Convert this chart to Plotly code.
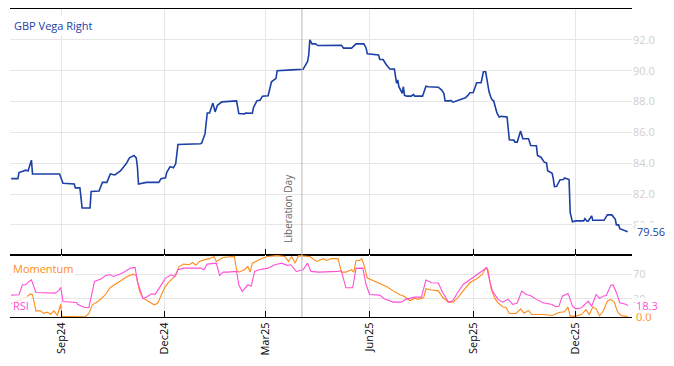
import plotly.graph_objects as go
from plotly.subplots import make_subplots

# ---------------- data ----------------
vega_dates = ["2024-07-18","2024-07-24","2024-07-25","2024-07-31","2024-08-02","2024-08-05","2024-08-06","2024-08-30",
 "2024-09-02","2024-09-12","2024-09-13","2024-09-17","2024-09-19","2024-09-26","2024-09-27","2024-10-04","2024-10-07",
 "2024-10-11","2024-10-14","2024-10-18","2024-10-23","2024-10-28","2024-10-31","2024-11-04","2024-11-06","2024-11-07",
 "2024-11-08","2024-11-15","2024-11-26","2024-11-28","2024-12-02","2024-12-03","2024-12-06","2024-12-09","2024-12-11",
 "2024-12-13","2025-01-02","2025-01-03","2025-01-06","2025-01-08","2025-01-10","2025-01-13","2025-01-15","2025-01-17",
 "2025-01-21","2025-02-03","2025-02-05","2025-02-10","2025-02-11","2025-02-17","2025-02-18","2025-02-21","2025-02-24",
 "2025-02-26","2025-03-03","2025-03-04","2025-03-06","2025-03-10","2025-03-11","2025-03-24","2025-04-03","2025-04-07",
 "2025-04-08","2025-04-09","2025-04-11","2025-04-14","2025-04-16","2025-05-07","2025-05-09","2025-05-16","2025-05-20",
 "2025-05-27","2025-05-29","2025-05-30","2025-06-09","2025-06-10","2025-06-13","2025-06-16","2025-06-19","2025-06-23",
 "2025-06-24","2025-06-25","2025-06-26","2025-06-27","2025-06-30","2025-07-01","2025-07-02","2025-07-04","2025-07-08",
 "2025-07-10","2025-07-11","2025-07-18","2025-07-21","2025-07-23","2025-08-01","2025-08-04","2025-08-06","2025-08-07",
 "2025-08-11","2025-08-12","2025-08-14","2025-08-18","2025-08-22","2025-08-25","2025-08-27","2025-08-29","2025-09-01",
 "2025-09-03","2025-09-04","2025-09-08","2025-09-09","2025-09-10","2025-09-12","2025-09-15","2025-09-17","2025-09-18",
 "2025-09-19","2025-09-22","2025-09-24","2025-09-26","2025-10-01","2025-10-03","2025-10-07","2025-10-08","2025-10-10",
 "2025-10-13","2025-10-15","2025-10-20","2025-10-22","2025-10-27","2025-10-28","2025-10-31","2025-11-03","2025-11-05",
 "2025-11-06","2025-11-10","2025-11-11","2025-11-12","2025-11-14","2025-11-17","2025-11-20","2025-11-21","2025-11-25",
 "2025-11-26","2025-11-28","2025-12-01","2025-12-08","2025-12-09","2025-12-11","2025-12-12","2025-12-15","2025-12-16",
 "2025-12-26","2025-12-29","2026-01-02","2026-01-05","2026-01-06","2026-01-08","2026-01-09","2026-01-13","2026-01-16"]
vega_values = [83.0,83.0,83.4,83.55,83.5,84.2,83.3,83.3,
 82.7,82.65,82.4,82.4,81.1,81.1,82.17,82.2,82.76,
 82.76,83.3,83.24,83.5,83.96,84.35,84.5,84.35,83.8,
 82.65,82.76,82.76,83.0,83.05,83.4,83.78,83.7,83.96,
 85.22,85.26,85.3,85.9,87.26,87.26,87.9,87.33,87.76,
 87.98,88.04,87.22,87.2,87.25,87.24,87.6,88.04,88.1,
 88.35,88.38,88.74,89.28,89.5,90.0,90.05,90.09,90.6,
 91.0,92.0,91.74,91.74,91.63,91.65,91.46,91.46,91.74,
 91.74,91.46,91.09,91.02,90.74,90.72,90.37,90.11,90.1,
 89.5,89.18,89.4,88.96,88.53,88.96,88.4,88.35,88.35,
 88.46,88.35,88.35,89.0,88.96,88.93,88.74,88.52,88.04,
 88.04,88.07,87.96,88.07,88.2,88.24,88.38,88.57,88.59,
 89.07,89.22,89.22,89.5,89.93,89.93,88.63,88.2,88.09,
 88.07,87.26,87.0,87.04,87.0,85.52,85.5,85.37,85.37,
 86.09,85.59,85.59,85.15,85.13,84.5,84.39,84.07,84.02,
 83.52,83.35,82.98,82.48,82.5,82.93,82.94,83.04,82.94,
 80.8,80.2,80.26,80.26,80.41,80.24,80.24,80.59,80.3,
 80.3,80.65,80.65,80.37,80.0,80.0,79.76,79.67,79.56]

rsi_dates = ["2024-07-18","2024-07-25","2024-07-28","2024-07-31","2024-08-03","2024-08-05","2024-08-09","2024-08-26",
 "2024-08-29","2024-08-31","2024-09-02","2024-09-14","2024-09-15","2024-09-21","2024-09-25","2024-09-30","2024-10-06",
 "2024-10-10","2024-10-14","2024-10-17","2024-10-22","2024-10-26","2024-11-01","2024-11-05","2024-11-07","2024-11-12",
 "2024-11-16","2024-11-19","2024-11-23","2024-11-28","2024-12-02","2024-12-07","2024-12-10","2024-12-13","2024-12-18",
 "2025-01-02","2025-01-05","2025-01-08","2025-01-15","2025-01-16","2025-01-19","2025-01-22","2025-01-26","2025-02-03",
 "2025-02-05","2025-02-08","2025-02-13","2025-02-16","2025-02-19","2025-02-23","2025-03-03","2025-03-09","2025-03-15",
 "2025-03-20","2025-03-23","2025-03-28","2025-04-03","2025-04-07","2025-04-10","2025-04-17","2025-05-04","2025-05-07",
 "2025-05-11","2025-05-17","2025-05-20","2025-05-26","2025-05-29","2025-06-01","2025-06-10","2025-06-14","2025-06-22",
 "2025-06-29","2025-07-03","2025-07-11","2025-07-17","2025-07-21","2025-07-26","2025-08-01","2025-08-05","2025-08-10",
 "2025-08-14","2025-08-18","2025-08-23","2025-08-29","2025-09-04","2025-09-09","2025-09-13","2025-09-16","2025-09-18",
 "2025-09-23","2025-09-27","2025-10-02","2025-10-06","2025-10-10","2025-10-14","2025-10-18","2025-10-22","2025-10-27",
 "2025-11-02","2025-11-10","2025-11-13","2025-11-16","2025-11-19","2025-11-24","2025-11-25","2025-11-28","2025-12-01",
 "2025-12-06","2025-12-12","2025-12-15","2025-12-19","2025-12-22","2025-12-25","2025-12-28","2026-01-01","2026-01-03",
 "2026-01-06","2026-01-09","2026-01-15","2026-01-16"]
rsi_values = [36,36.6,53,53,58.5,61,40.4,39.2,
 43,48.6,25.6,24,21,15.7,15.7,58.5,63,
 68.4,69.5,66.7,70.5,73.8,80.4,81.5,58.5,30,
 33.8,37.6,37.6,53,64,69.5,66.7,77.7,80.4,
 80.4,77.7,87,88.6,88.6,68.4,73.8,73.8,75,
 53,42,53,50.6,75,77.7,80.4,86,88.6,
 85,86,75,77.7,88.6,75,73.8,75,76,
 48,48,80,80.4,53,37,36,30,24.5,
 24.5,29,32.7,32.7,60.7,56.3,56,39.8,24.5,
 27,40,53.5,61.7,70,75.5,81,56,42.5,
 29,24.5,29,20.6,23,42.5,37,35,29,
 23.4,20.6,16.8,17.5,34.3,38.7,34.3,17.8,13.5,
 15.3,26,17.5,37,30.5,34.3,35.4,52,53,
 40,23.4,20.6,18.3]

mom_dates = ["2024-07-18","2024-07-25","2024-08-01","2024-08-04","2024-08-06","2024-08-09","2024-08-13","2024-08-16",
 "2024-08-19","2024-08-22","2024-08-25","2024-08-28","2024-08-31","2024-09-01","2024-09-12","2024-09-22","2024-09-25",
 "2024-09-28","2024-10-03","2024-10-09","2024-10-14","2024-10-20","2024-10-25","2024-10-29","2024-11-03","2024-11-06",
 "2024-11-09","2024-11-12","2024-11-16","2024-11-22","2024-11-25","2024-11-28","2024-12-01","2024-12-04","2024-12-08",
 "2024-12-11","2024-12-14","2024-12-18","2024-12-23","2024-12-26","2024-12-29","2025-01-01","2025-01-05","2025-01-10",
 "2025-01-14","2025-01-16","2025-01-22","2025-02-01","2025-02-03","2025-02-05","2025-02-10","2025-02-13","2025-02-15",
 "2025-02-17","2025-02-23","2025-03-02","2025-03-11","2025-03-18","2025-03-21","2025-03-24","2025-03-27","2025-03-30",
 "2025-04-09","2025-04-15","2025-04-21","2025-04-24","2025-04-28","2025-05-04","2025-05-07","2025-05-11","2025-05-16",
 "2025-05-18","2025-05-20","2025-05-23","2025-05-25","2025-05-27","2025-05-30","2025-06-04","2025-06-07","2025-06-10",
 "2025-06-16","2025-06-22","2025-06-28","2025-07-02","2025-07-07","2025-07-11","2025-07-14","2025-07-19","2025-07-21",
 "2025-07-26","2025-08-01","2025-08-05","2025-08-10","2025-08-14","2025-08-18","2025-08-23","2025-08-29","2025-09-04",
 "2025-09-09","2025-09-12","2025-09-14","2025-09-17","2025-09-20","2025-09-23","2025-09-27","2025-09-30","2025-10-03",
 "2025-10-09","2025-10-13","2025-10-16","2025-10-20","2025-10-23","2025-11-02","2025-11-10","2025-11-16","2025-11-21",
 "2025-11-24","2025-11-26","2025-12-01","2025-12-06","2025-12-10","2025-12-13","2025-12-16","2025-12-19","2025-12-22",
 "2025-12-25","2025-12-29","2026-01-01","2026-01-04","2026-01-07","2026-01-10","2026-01-15","2026-01-16"]
mom_values = [22,28,33,38,36.6,10,10,6,
 8,4.6,10,2.5,21,1,0.5,0.5,6,
 20,25.6,35.4,48.6,55.7,61,66.7,70.5,68.4,
 42,31,26.7,20,22.5,33.8,47.5,55.7,64,
 68.4,83,87,86,89.7,85,91.4,94,96,
 99.6,91.4,98,99.6,77.7,73.8,77.7,83,73.8,
 88.6,94,99.6,101,99.6,91.4,99.6,88.6,101,
 99.6,91.4,96,93,96,96,73.8,73.8,77.7,
 73.8,93,93,96,86,64,60,57.4,54,
 50.2,43,36.6,33.8,26.7,31,29,32,46.5,
 44.5,43,32,24.5,24.5,31,43,56.3,63,
 70,81,78,45.3,31,23.4,16.8,15.6,5.8,
 5.8,13.5,6.3,10.8,4,4,2.5,7.5,8.6,
 16.3,1.4,1.4,4,12,4,16.3,13.5,2,
 8.6,26,29,24.5,8.6,2.5,1,0]

vega_ticks = [80, 82, 84, 86, 88, 90, 92]
osc_ticks = [30, 70]
event_date = "2025-04-02"
event_label = "Liberation Day"
series_name = "GBP Vega Right"

# ---------------- styling ----------------
BLUE = "#1c40a6"
ORANGE = "#ff8c1a"
MAGENTA = "#ff4fd6"
GRID = "#e6e6e6"
LIGHT = "#cfcfcf"
FONT = "Open Sans"

fig = make_subplots(rows=2, cols=1, shared_xaxes=True, vertical_spacing=0,
                    row_heights=[0.7987, 0.2013])

fig.add_trace(go.Scatter(x=vega_dates, y=vega_values, mode="lines",
                         line=dict(color=BLUE, width=1.6), name=series_name,
                         showlegend=False), row=1, col=1)
fig.add_trace(go.Scatter(x=mom_dates, y=mom_values, mode="lines",
                         line=dict(color=ORANGE, width=1.1), name="Momentum",
                         showlegend=False), row=2, col=1)
fig.add_trace(go.Scatter(x=rsi_dates, y=rsi_values, mode="lines",
                         line=dict(color=MAGENTA, width=1.1), name="RSI",
                         showlegend=False), row=2, col=1)

xrange = ["2024-07-17", "2026-01-19 20:00"]
common_x = dict(range=xrange, type="date", dtick="M3", tick0="2024-09-01",
                showgrid=True, gridcolor=GRID, gridwidth=1,
                showline=True, linecolor="black", linewidth=1.2, mirror=True,
                ticks="inside", ticklen=6, tickcolor="black", zeroline=False)

fig.update_xaxes(**common_x, showticklabels=False, row=1, col=1)
fig.update_xaxes(**common_x, showticklabels=True, tickformat="%b%y", tickangle=-90,
                 tickfont=dict(family=FONT, size=11, color="black"), row=2, col=1)

fig.update_yaxes(range=[78.05, 94.0], side="right", tickvals=vega_ticks,
                 tickformat=".1f", showgrid=True, gridcolor=GRID, zeroline=False,
                 showline=False, ticks="", tickfont=dict(family=FONT, size=11, color=LIGHT),
                 row=1, col=1)
fig.update_yaxes(range=[0, 102], side="right", tickvals=osc_ticks,
                 showgrid=True, gridcolor=GRID, zeroline=False,
                 showline=False, ticks="", tickfont=dict(family=FONT, size=11, color=LIGHT),
                 row=2, col=1)

# event line across both panels
fig.add_shape(type="line", xref="x", yref="paper", x0=event_date, x1=event_date,
              y0=0, y1=1, line=dict(color="#b5b5b5", width=1), layer="above")
fig.add_annotation(x=event_date, xref="x", y=78.75, yref="y", text=event_label,
                   textangle=-90, xanchor="right", yanchor="bottom", xshift=-5,
                   showarrow=False, font=dict(family=FONT, size=10, color="#666666"))

# labels
fig.add_annotation(x=0, xref="paper", y=0.948, yref="paper", text=series_name,
                   xanchor="left", yanchor="middle", showarrow=False, xshift=1,
                   bgcolor="rgba(255,255,255,0.95)", borderpad=2,
                   font=dict(family=FONT, size=11, color=BLUE))
fig.add_annotation(x=0, xref="paper", y=0.159, yref="paper", text="Momentum",
                   xanchor="left", yanchor="middle", showarrow=False, xshift=1,
                   bgcolor="rgba(255,255,255,0.85)", borderpad=1,
                   font=dict(family=FONT, size=11, color=ORANGE))
fig.add_annotation(x=0, xref="paper", y=0.036, yref="paper", text="RSI",
                   xanchor="left", yanchor="middle", showarrow=False, xshift=1,
                   bgcolor="rgba(255,255,255,0.8)", borderpad=1,
                   font=dict(family=FONT, size=11, color=MAGENTA))

# last values
fig.add_annotation(x=1, xref="paper", y=vega_values[-1], yref="y",
                   text=f"{vega_values[-1]:.2f}", xanchor="left", yanchor="middle",
                   showarrow=False, xshift=3, bgcolor="rgba(255,255,255,0.9)", borderpad=1,
                   font=dict(family=FONT, size=11, color=BLUE))
fig.add_annotation(x=1, xref="paper", y=mom_values[-1], yref="y2",
                   text=f"{mom_values[-1]:.1f}", xanchor="left", yanchor="middle",
                   showarrow=False, xshift=3, borderpad=0,
                   font=dict(family=FONT, size=11, color=ORANGE))
fig.add_annotation(x=1, xref="paper", y=rsi_values[-1], yref="y2",
                   text=f"{rsi_values[-1]:.1f}", xanchor="left", yanchor="middle",
                   showarrow=False, xshift=3, bgcolor="rgba(255,255,255,0.85)", borderpad=0,
                   font=dict(family=FONT, size=11, color=MAGENTA))

fig.update_layout(width=674, height=366,
                  margin=dict(l=2, r=50, t=1, b=57),
                  paper_bgcolor="white", plot_bgcolor="white",
                  font=dict(family=FONT, size=11), showlegend=False)

fig.write_html("out.html")
